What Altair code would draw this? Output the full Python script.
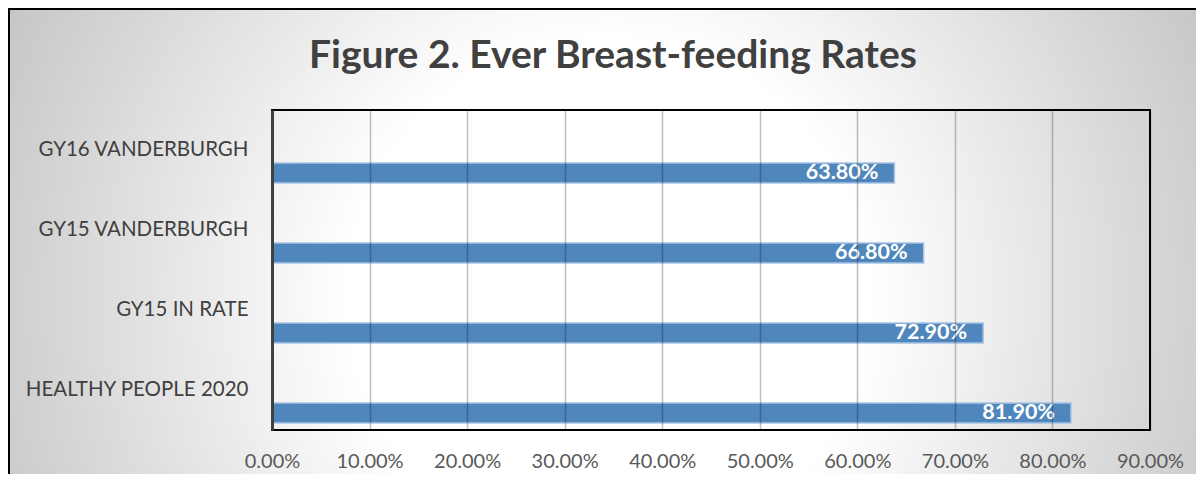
import altair as alt
import pandas as pd

# ---- data ----
categories = ["GY16 VANDERBURGH", "GY15 VANDERBURGH", "GY15 IN RATE", "HEALTHY PEOPLE 2020"]
rates = [0.638, 0.668, 0.729, 0.819]
x_ticks = [0.0, 0.1, 0.2, 0.3, 0.4, 0.5, 0.6, 0.7, 0.8, 0.9]
title_text = "Figure 2. Ever Breast-feeding Rates"

df = pd.DataFrame({"category": categories, "rate": rates})

FONT = "Lato"
W, H = 878, 320
PAD = {"left": 264, "top": 102, "right": 46, "bottom": 44}

x_scale = alt.Scale(domain=[0, 0.9], nice=False, zero=True)
y_scale = alt.Scale(paddingInner=0, paddingOuter=0)

x_axis = alt.Axis(
    values=x_ticks, format=".2%", title=None,
    grid=True, gridColor="black", gridOpacity=0.25, gridWidth=1.5,
    ticks=False, tickSize=0, domain=False,
    labelFont=FONT, labelFontSize=20, labelColor="#595959",
    labelPadding=21, labelFlush=False, labelOverlap=False, zindex=1,
)
y_axis = alt.Axis(
    title=None, grid=False, ticks=False, tickSize=0,
    domain=True, domainColor="#404040", domainWidth=3,
    labelFont=FONT, labelFontSize=20.5, labelColor="#404040",
    labelPadding=24, labelLimit=400, zindex=1,
)

# background (radial gradient, like the Excel chart area)
bg_gradient = alt.RadialGradient(
    gradient="radial", x1=0.5, y1=0.5, r1=0, x2=0.5, y2=0.5, r2=0.5,
    stops=[
        alt.GradientStop(offset=0, color="#ffffff"),
        alt.GradientStop(offset=0.37, color="#ffffff"),
        alt.GradientStop(offset=0.95, color="#c6c6c6"),
        alt.GradientStop(offset=1, color="#c3c3c3"),
    ],
)
background = alt.Chart(alt.Data(values=[{}])).mark_rect(fill=bg_gradient).encode(
    x=alt.value(-364), x2=alt.value(1036), y=alt.value(-512), y2=alt.value(888)
)

title = alt.Chart(alt.Data(values=[{"t": title_text}])).mark_text(
    font=FONT, fontSize=39, fontWeight="bold", color="#404040",
    align="center", baseline="alphabetic",
).encode(x=alt.value(341), y=alt.value(-42), text="t:N")

base = alt.Chart(df)

bars = base.mark_bar(
    size=20, yOffset=23, fill="#4f87bd", stroke="#a7c4e4", strokeWidth=1.5
).encode(
    x=alt.X("rate:Q", scale=x_scale, axis=x_axis),
    y=alt.Y("category:N", sort=categories, scale=y_scale, axis=y_axis),
)

labels = base.mark_text(
    align="right", baseline="middle", dx=-16, yOffset=23,
    font=FONT, fontSize=21.5, fontWeight="bold", color="white",
).encode(
    x=alt.X("rate:Q", scale=x_scale),
    y=alt.Y("category:N", sort=categories, scale=y_scale),
    text=alt.Text("rate:Q", format=".2%"),
)

frame = alt.Chart(alt.Data(values=[{}])).mark_rect(
    fillOpacity=0, stroke="black", strokeWidth=2
).encode(x=alt.value(0), x2=alt.value("width"), y=alt.value(0), y2=alt.value("height"))

outer_left = alt.Chart(alt.Data(values=[{}])).mark_rule(color="black", strokeWidth=2).encode(
    x=alt.value(-263), y=alt.value(-102), y2=alt.value(400)
)
outer_top = alt.Chart(alt.Data(values=[{}])).mark_rule(color="black", strokeWidth=2).encode(
    x=alt.value(-264), x2=alt.value(960), y=alt.value(-101)
)

chart = alt.layer(background, title, bars, labels, frame, outer_left, outer_top).properties(
    width=W, height=H,
    padding=PAD,
    autosize=alt.AutoSizeParams(type="none"),
)

chart.save("out.html", embed_options={"renderer": "svg", "actions": False})
